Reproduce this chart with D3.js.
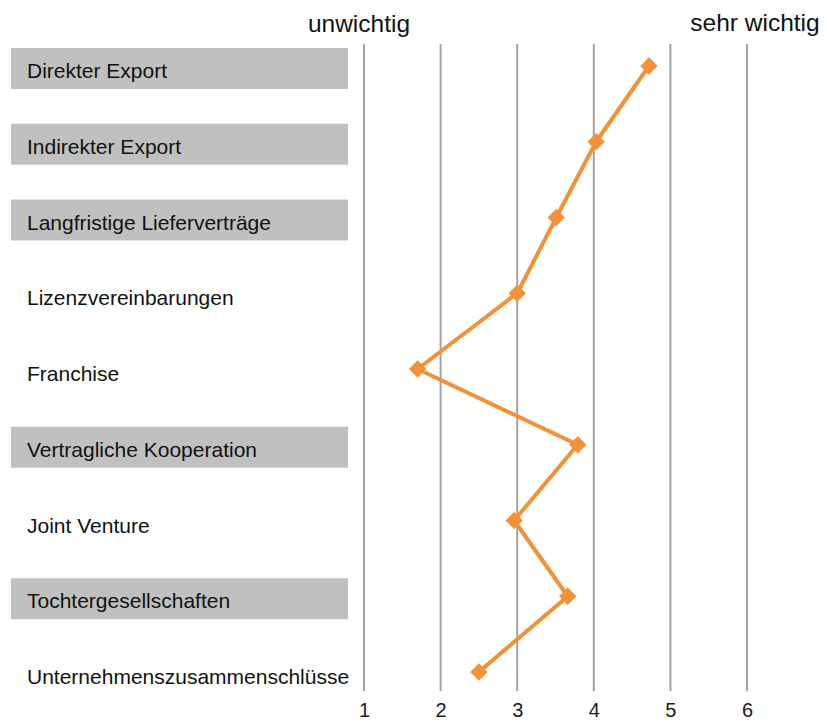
<!DOCTYPE html>
<html>
<head>
<meta charset="utf-8">
<script src="https://cdn.jsdelivr.net/npm/d3@7"></script>
<style>
  html, body { margin: 0; padding: 0; background: #fff; }
  svg { display: block; font-family: "Liberation Sans", Arial, sans-serif; }
</style>
</head>
<body>
<svg id="chart" width="827" height="722"></svg>
<script>
// Forms of market entry and their rated importance (1 = unwichtig, 6 = sehr wichtig)
const categories = [
  "Direkter Export",
  "Indirekter Export",
  "Langfristige Lieferverträge",
  "Lizenzvereinbarungen",
  "Franchise",
  "Vertragliche Kooperation",
  "Joint Venture",
  "Tochtergesellschaften",
  "Unternehmenszusammenschlüsse"
];
const values = [4.72, 4.03, 3.51, 3.0, 1.70, 3.79, 2.96, 3.66, 2.50];
const highlighted = [true, true, true, false, false, true, false, true, false];
const ticks = [1, 2, 3, 4, 5, 6];
const scaleLabels = ["unwichtig", "sehr wichtig"];

const svg = d3.select("#chart");

const x = d3.scaleLinear().domain([1, 6]).range([364, 747]);
const y = d3.scalePoint().domain(categories).range([66, 672]);

// vertical grid lines
svg.append("g")
  .selectAll("line")
  .data(ticks)
  .join("line")
  .attr("x1", d => x(d)).attr("x2", d => x(d))
  .attr("y1", 44).attr("y2", 691)
  .attr("stroke", "#a3a3a3")
  .attr("stroke-width", 2);

// tick labels along the bottom
const axis = d3.axisBottom(x).tickValues(ticks).tickSize(0).tickPadding(0).tickFormat(d3.format("d"));
const axisG = svg.append("g").attr("transform", "translate(0,717)").call(axis);
axisG.select(".domain").remove();
axisG.selectAll("text")
  .attr("font-family", "'Liberation Sans', Arial, sans-serif")
  .attr("font-size", 20)
  .attr("fill", "#1a1a1a")
  .attr("dy", 0)
  .attr("y", 0);

// end labels of the scale
svg.append("text")
  .attr("x", x(1) - 5).attr("y", 32)
  .attr("text-anchor", "middle")
  .attr("font-size", 24.5)
  .attr("fill", "#111")
  .text(scaleLabels[0]);
svg.append("text")
  .attr("x", x(6) + 8).attr("y", 31)
  .attr("text-anchor", "middle")
  .attr("font-size", 24.5)
  .attr("fill", "#111")
  .text(scaleLabels[1]);

// category rows: shaded boxes for highlighted entries, then labels
const rows = svg.append("g");
rows.selectAll("rect")
  .data(categories.filter((c, i) => highlighted[i]))
  .join("rect")
  .attr("x", 11).attr("width", 337)
  .attr("y", d => y(d) - 18).attr("height", 41)
  .attr("fill", "#c0c0c0");
rows.selectAll("text")
  .data(categories)
  .join("text")
  .attr("x", 27)
  .attr("y", d => y(d) + 12)
  .attr("font-size", 21)
  .attr("fill", "#111")
  .text(d => d);

// profile line
const pts = categories.map((c, i) => [x(values[i]), y(c)]);
svg.append("path")
  .attr("d", d3.line()(pts))
  .attr("fill", "none")
  .attr("stroke", "#f39138")
  .attr("stroke-width", 4)
  .attr("stroke-linejoin", "round");

// diamond markers
const diamond = d3.symbol().type(d3.symbolSquare).size(150);
svg.append("g")
  .selectAll("path")
  .data(pts)
  .join("path")
  .attr("transform", d => `translate(${d[0]},${d[1]}) rotate(45)`)
  .attr("d", diamond)
  .attr("fill", "#f39138");
</script>
</body>
</html>
